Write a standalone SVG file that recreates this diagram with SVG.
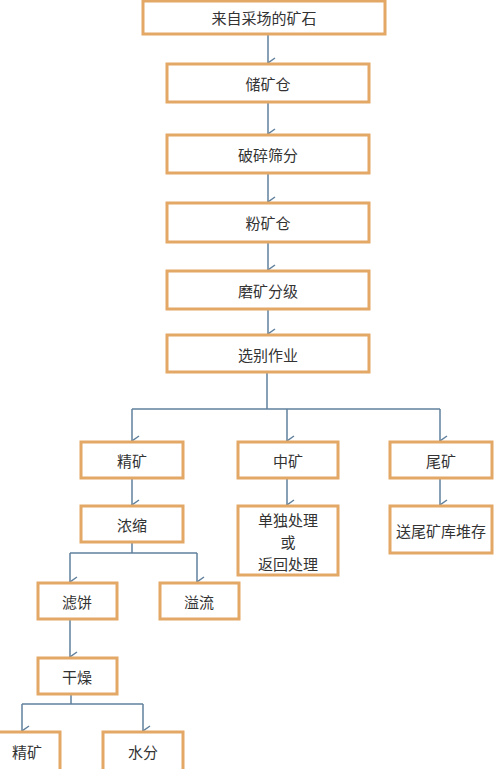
<svg xmlns="http://www.w3.org/2000/svg" width="500" height="769" viewBox="0 0 500 769">
<style>
.box{fill:#fff;stroke:#E3A766;stroke-width:3}
.t{font-family:"Noto Sans CJK SC","Noto Sans",sans-serif;font-size:15px;fill:#333;text-anchor:middle;dominant-baseline:central}
.c{fill:none;stroke:#61809C;stroke-width:1.5}
</style>
<defs>
<marker id="ah" viewBox="0 0 12 12" refX="6" refY="11" markerWidth="12" markerHeight="12" markerUnits="userSpaceOnUse" orient="auto-start-reverse">
<path d="M1,4 L6,11 L11,4" fill="none" stroke="#61809C" stroke-width="1.5"/>
</marker>
</defs>
<rect width="500" height="769" fill="#fff"/>
<g id="connectors">
<path class="c" d="M268,34 V63" marker-end="url(#ah)"/>
<path class="c" d="M268,102 V134" marker-end="url(#ah)"/>
<path class="c" d="M268,173 V202" marker-end="url(#ah)"/>
<path class="c" d="M268,242 V270" marker-end="url(#ah)"/>
<path class="c" d="M268,309 V334" marker-end="url(#ah)"/>
<path class="c" d="M267,372 V409"/>
<path class="c" d="M132,409 H440"/>
<path class="c" d="M132,409 V441" marker-end="url(#ah)"/>
<path class="c" d="M287,409 V441" marker-end="url(#ah)"/>
<path class="c" d="M440,409 V441" marker-end="url(#ah)"/>
<path class="c" d="M132,478 V505" marker-end="url(#ah)"/>
<path class="c" d="M287,478 V505" marker-end="url(#ah)"/>
<path class="c" d="M440,478 V505" marker-end="url(#ah)"/>
<path class="c" d="M132,542 V553"/>
<path class="c" d="M70,553 H197"/>
<path class="c" d="M70,553 V582" marker-end="url(#ah)"/>
<path class="c" d="M197,553 V582" marker-end="url(#ah)"/>
<path class="c" d="M70,619 V657" marker-end="url(#ah)"/>
<path class="c" d="M71,694 V704"/>
<path class="c" d="M22,704 H143"/>
<path class="c" d="M22,704 V731" marker-end="url(#ah)"/>
<path class="c" d="M143,704 V731" marker-end="url(#ah)"/>
</g>
<g id="n1"><rect class="box" x="143" y="1" width="242" height="33"/><text class="t" x="264" y="17">来自采场的矿石</text></g>
<g id="n2"><rect class="box" x="167" y="64" width="202" height="38"/><text class="t" x="268" y="83">储矿仓</text></g>
<g id="n3"><rect class="box" x="167" y="135" width="202" height="38"/><text class="t" x="268" y="154">破碎筛分</text></g>
<g id="n4"><rect class="box" x="167" y="203" width="202" height="39"/><text class="t" x="268" y="222">粉矿仓</text></g>
<g id="n5"><rect class="box" x="167" y="271" width="202" height="38"/><text class="t" x="268" y="290">磨矿分级</text></g>
<g id="n6"><rect class="box" x="167" y="335" width="202" height="37"/><text class="t" x="268" y="354">选别作业</text></g>
<g id="n7"><rect class="box" x="81" y="442" width="102" height="36"/><text class="t" x="132" y="460">精矿</text></g>
<g id="n8"><rect class="box" x="238" y="442" width="100" height="36"/><text class="t" x="288" y="460">中矿</text></g>
<g id="n9"><rect class="box" x="390" y="442" width="102" height="36"/><text class="t" x="441" y="460">尾矿</text></g>
<g id="n10"><rect class="box" x="81" y="506" width="102" height="36"/><text class="t" x="132" y="524">浓缩</text></g>
<g id="n11"><rect class="box" x="238" y="506" width="100" height="69"/><text class="t" x="288" y="519.5">单独处理</text><text class="t" x="288" y="541.5">或</text><text class="t" x="288" y="563.5">返回处理</text></g>
<g id="n12"><rect class="box" x="390" y="506" width="102" height="47"/><text class="t" x="441" y="530">送尾矿库堆存</text></g>
<g id="n13"><rect class="box" x="38" y="583" width="79" height="36"/><text class="t" x="77" y="601">滤饼</text></g>
<g id="n14"><rect class="box" x="160" y="583" width="79" height="36"/><text class="t" x="199" y="601">溢流</text></g>
<g id="n15"><rect class="box" x="38" y="658" width="79" height="36"/><text class="t" x="77" y="676">干燥</text></g>
<g id="n16"><rect class="box" x="-2" y="732" width="62" height="40"/><text class="t" x="27" y="751">精矿</text></g>
<g id="n17"><rect class="box" x="103" y="732" width="80" height="40"/><text class="t" x="143" y="751">水分</text></g>
</svg>
